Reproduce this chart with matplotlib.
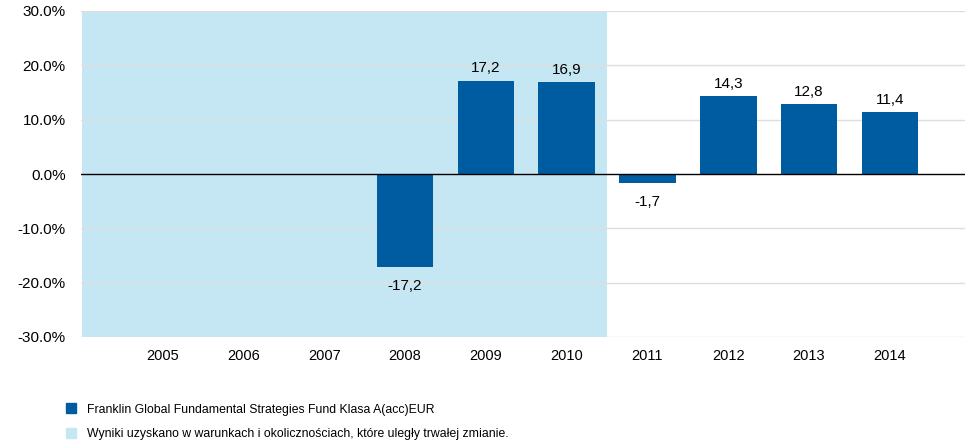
import numpy as np
import matplotlib.pyplot as plt
from matplotlib.patches import Patch

years = ['2005', '2006', '2007', '2008', '2009', '2010', '2011', '2012', '2013', '2014']
returns = [np.nan, np.nan, np.nan, -17.2, 17.2, 16.9, -1.7, 14.3, 12.8, 11.4]
yticks = [-30, -20, -10, 0, 10, 20, 30]
fund_name = 'Franklin Global Fundamental Strategies Fund Klasa A(acc)EUR'
shade_note = 'Wyniki uzyskano w warunkach i okolicznościach, które uległy trwałej zmianie.'
shade_until = 5  # last shaded category index (2010)

plt.rcParams['font.family'] = ['Liberation Sans', 'DejaVu Sans']
bar_color = '#005ca1'
shade_color = '#c5e7f3'
grid_color = '#dedede'

fig = plt.figure(figsize=(9.65, 4.46), dpi=100)
ax = fig.add_axes([81 / 965, 1 - 337 / 446, 1 - 81 / 965, (337 - 11) / 446])

x = np.arange(len(years))
ax.axvspan(-1, shade_until + 0.5, color=shade_color, zorder=0, lw=0)
for t in yticks:
    if t != 0:
        ax.axhline(t, color=grid_color, lw=1, zorder=1)
ax.axhline(0, color='black', lw=1, zorder=3)

ax.bar(x, returns, width=0.7, color=bar_color, zorder=2)
for xi, v in zip(x, returns):
    if np.isnan(v):
        continue
    label = f'{v:.1f}'.replace('.', ',')
    if v >= 0:
        ax.text(xi, v + 1.0, label, ha='center', va='bottom', fontsize=11)
    else:
        ax.text(xi, v - 2.2, label, ha='center', va='top', fontsize=11)

ax.set_xlim(-1.01, 9.93)
ax.set_ylim(-30, 30)
ax.set_yticks(yticks)
ax.set_yticklabels([f'{t:.1f}%' for t in yticks], fontsize=11)
ax.set_xticks(x)
ax.set_xticklabels(years, fontsize=10.5)
ax.tick_params(length=0, pad=9)
ax.tick_params(axis='y', pad=11)
for s in ax.spines.values():
    s.set_visible(False)

handles = [Patch(color=bar_color), Patch(color=shade_color)]
fig.legend(handles, [fund_name, shade_note], loc='lower left',
           bbox_to_anchor=(55 / 965, -0.011), frameon=False, fontsize=8.8,
           handlelength=0.85, handleheight=0.85, handletextpad=0.85,
           labelspacing=1.0)

fig.savefig('out.png', dpi=100)
